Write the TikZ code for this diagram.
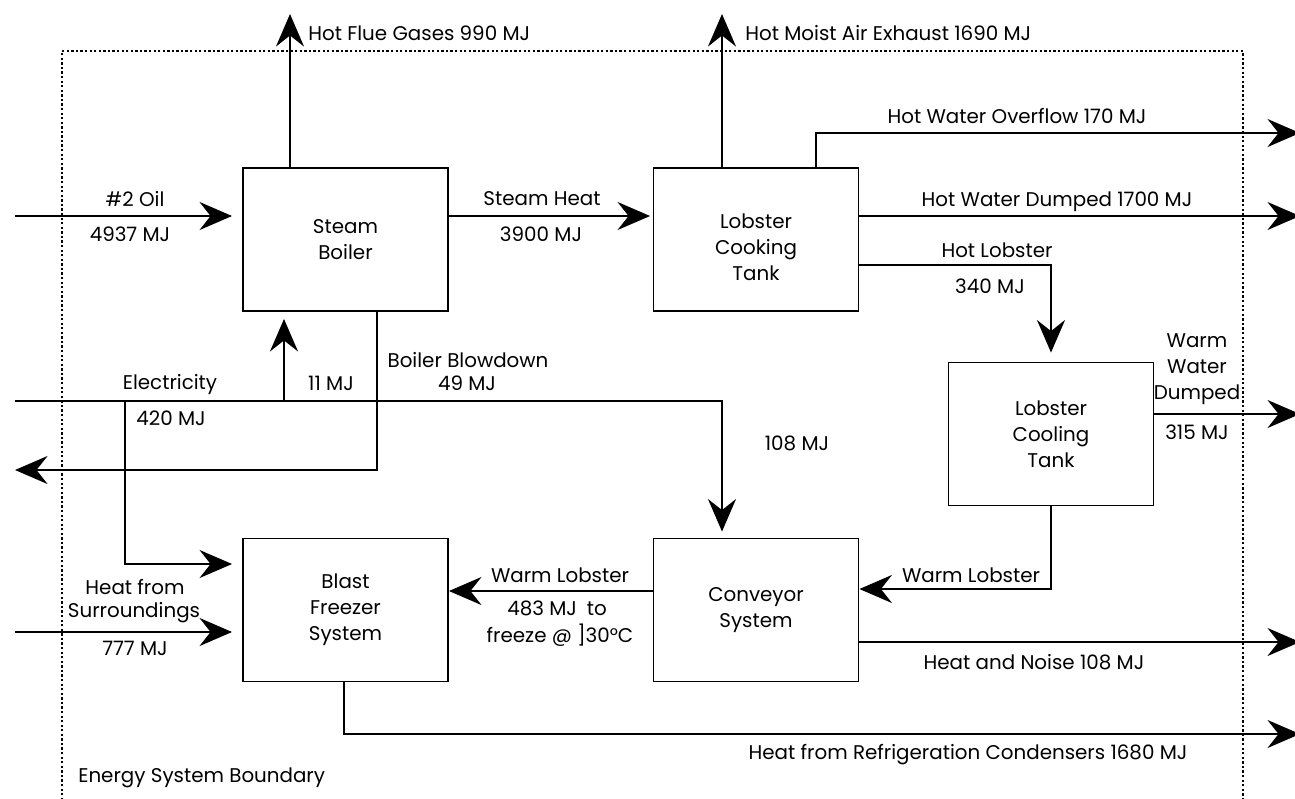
\documentclass[tikz,border=0pt]{standalone}
\usepackage{fontspec}
\setmainfont{Poppins}
\usetikzlibrary{arrows.meta}
\newcommand\figfont{\fontsize{11.3}{14.8}\selectfont}
\begin{document}
\begin{tikzpicture}[x=0.02cm,y=-0.02cm,
  box/.style={draw, line width=1.1pt, minimum width=4.1cm, minimum height=2.86cm, align=center, font=\figfont, inner sep=0pt},
  flow/.style={line width=1.1pt, -{Stealth[length=6.5mm,width=5.6mm,inset=2.2mm]}},
  lbl/.style={font=\figfont, inner sep=0pt, align=center},
  bound/.style={line width=1pt, dash pattern=on 1.3pt off 1.3pt}]
\useasboundingbox (0,0) rectangle (1295,798);
% boundary
\draw[bound] (62,800) -- (62,51) -- (1243,51) -- (1243,800);
% boxes
\node[box] (boiler) at (345.5,239.5) {Steam\\Boiler};
\node[box] (cook) at (756,239.5) {};
\node[lbl] (cookt) at (756,247) {Lobster\\Cooking\\Tank};
\node[box] (cool) at (1051,434) {Lobster\\Cooling\\Tank};
\node[box] (conv) at (756,610) {Conveyor\\System};
\node[box] (freezer) at (345.5,610) {Blast\\Freezer\\System};
% coordinates
\coordinate (oilin) at (15,216);
\coordinate (flue) at (290,14);
\coordinate (moist) at (722,14);
\coordinate (ovfx) at (816,133);
\coordinate (ovf) at (1300,133);
\coordinate (dump) at (1300,216);
\coordinate (hl) at (1051,265);
\coordinate (ww) at (1300,414);
\coordinate (wl) at (1051,589);
\coordinate (hn) at (1300,642);
\coordinate (wlly) at (0,591);
\coordinate (rf) at (344,734);
\coordinate (rfend) at (1300,734);
\coordinate (sur) at (15,632);
\coordinate (el) at (15,401);
\coordinate (elc) at (722,401);
\coordinate (e1) at (125,401);
\coordinate (e2) at (125,564);
\coordinate (e3) at (284,401);
\coordinate (bd) at (377,470);
\coordinate (bdend) at (15,470);
% connectors
\draw[flow, shorten >=2mm] (oilin) -- (oilin -| boiler.west);
\draw[flow, shorten >=0.5mm] (boiler.east |- oilin) -- (cook.west |- oilin);
\draw[flow] (boiler.north -| flue) -- (flue);
\draw[flow] (cook.north -| moist) -- (moist);
\draw[flow] (cook.north -| ovfx) -- (ovfx) -- (ovf);
\draw[flow] (cook.east |- dump) -- (dump);
\draw[flow, shorten >=1.8mm] (cook.east |- hl) -- (hl) -- (cool.north);
\draw[flow] (cool.east |- ww) -- (ww);
\draw[flow] (cool.south) -- (wl) -- (wl -| conv.east);
\draw[flow] (conv.east |- hn) -- (hn);
\draw[flow] (conv.west |- wlly) -- (freezer.east |- wlly);
\draw[flow] (freezer.south -| rf) -- (rf) -- (rfend);
\draw[flow, shorten >=2mm] (sur) -- (sur -| freezer.west);
\draw[flow, shorten >=1.2mm] (el) -- (elc) -- (conv.north -| elc);
\draw[flow, shorten >=2mm] (e1) -- (e2) -- (e2 -| freezer.west);
\draw[flow, shorten >=1.4mm] (e3) -- (e3 |- boiler.south);
\draw[flow] (boiler.south -| bd) -- (bd) -- (bdend);
% labels
\node[lbl, anchor=west] (l1) at (308,33) {Hot Flue Gases 990 MJ};
\node[lbl, anchor=west] (l2) at (745,33) {Hot Moist Air Exhaust 1690 MJ};
\node[lbl] (l3) at (135,199) {\#2 Oil};
\node[lbl] (l4) at (130,234) {4937 MJ};
\node[lbl] (l5) at (542,199) {Steam Heat};
\node[lbl] (l6) at (541,234) {3900 MJ};
\node[lbl] (l7) at (1017,116) {Hot Water Overflow 170 MJ};
\node[lbl] (l8) at (1057,202) {Hot Water Dumped 1700 MJ};
\node[lbl] (l9) at (997,250) {Hot Lobster};
\node[lbl] (l10) at (990,286) {340 MJ};
\node[lbl] (l11) at (1197,369) {Warm\\Water\\Dumped};
\node[lbl] (l12) at (1197,432) {315 MJ};
\node[lbl] (l13) at (468,360) {Boiler Blowdown};
\node[lbl] (l14) at (467,383) {49 MJ};
\node[lbl] (l15) at (170,385) {Electricity};
\node[lbl] (l16) at (171,418) {420 MJ};
\node[lbl] (l17) at (331,383) {11 MJ};
\node[lbl] (l18) at (797,443) {108 MJ};
\node[lbl] (l19) at (135,587) {Heat from};
\node[lbl] (l20) at (134,613) {Surroundings};
\node[lbl] (l21) at (135,648) {777 MJ};
\node[lbl] (l22) at (560,575) {Warm Lobster};
\node[lbl] (l23) at (557,608) {483 MJ\enspace to};
\node[lbl] (l24) at (560,635) {freeze @ ]30°C};
\node[lbl] (l25) at (971,575) {Warm Lobster};
\node[lbl] (l26) at (1034,662) {Heat and Noise 108 MJ};
\node[lbl] (l27) at (968,755) {Heat from Refrigeration Condensers 1680 MJ};
\node[lbl, anchor=west] (l28) at (78,778) {Energy System Boundary};
\end{tikzpicture}
\end{document}
